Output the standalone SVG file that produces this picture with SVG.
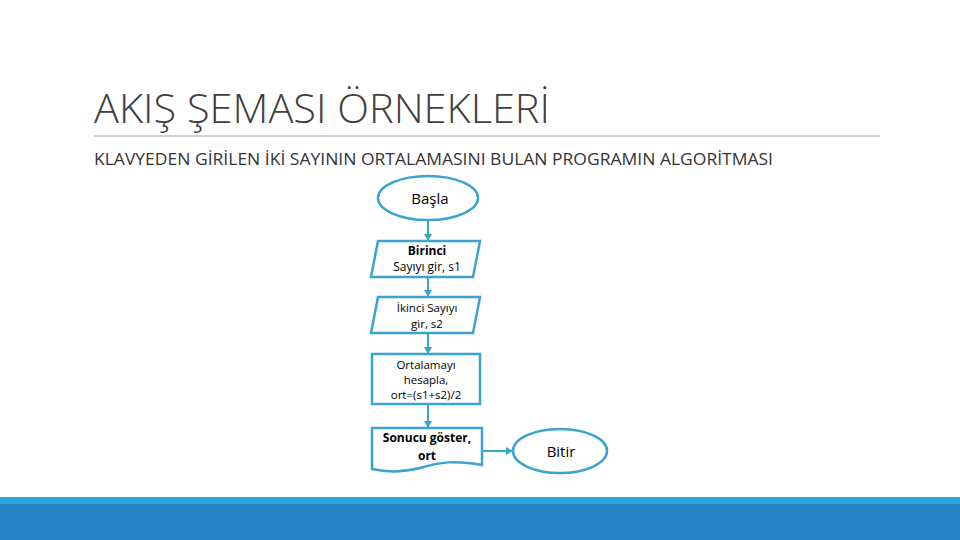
<svg xmlns="http://www.w3.org/2000/svg" width="960" height="540" viewBox="0 0 960 540">
<defs>
<marker id="ah" markerWidth="8" markerHeight="8" refX="6" refY="4" orient="auto" markerUnits="userSpaceOnUse">
<path d="M0,0 L7,4 L0,8 z" fill="#3AA3CF"/>
</marker>
<style>
.s{fill:#fff;stroke:#3AA3CF;stroke-width:2.5}
.t{font-family:"Open Sans","Liberation Sans",sans-serif;fill:#000;text-anchor:middle}
.c{stroke:#3AA3CF;stroke-width:2;fill:none;marker-end:url(#ah)}
</style>
</defs>
<rect width="960" height="540" fill="#fff"/>
<text x="94" y="123" font-family="'Open Sans','Liberation Sans',sans-serif" font-weight="300" font-size="41" fill="#404040" textLength="456" lengthAdjust="spacingAndGlyphs">AKIŞ ŞEMASI ÖRNEKLERİ</text>
<line x1="94" y1="136" x2="880" y2="136" stroke="#A6A6A6" stroke-width="1"/>
<text x="94" y="165" font-family="'Open Sans','Liberation Sans',sans-serif" font-size="15.5" fill="#333" textLength="679" lengthAdjust="spacingAndGlyphs">KLAVYEDEN GİRİLEN İKİ SAYININ ORTALAMASINI BULAN PROGRAMIN ALGORİTMASI</text>
<g id="connectors">
<line class="c" x1="428" y1="221" x2="428" y2="240"/>
<line class="c" x1="428" y1="277" x2="428" y2="296"/>
<line class="c" x1="428" y1="333" x2="428" y2="353"/>
<line class="c" x1="428" y1="404" x2="428" y2="427"/>
<line class="c" x1="482" y1="451" x2="512" y2="451"/>
</g>
<g id="basla">
<ellipse class="s" cx="428" cy="198" rx="50" ry="22"/>
<text class="t" x="430" y="204" font-size="15">Başla</text>
</g>
<g id="input1">
<polygon class="s" points="378,241 480,241 473,277 371,277"/>
<text class="t" x="427" y="255" font-size="12" font-weight="bold">Birinci</text>
<text class="t" x="427" y="271" font-size="12">Sayıyı gir, s1</text>
</g>
<g id="input2">
<polygon class="s" points="378,297 480,297 473,333 371,333"/>
<text class="t" x="427" y="312" font-size="11.5">İkinci Sayıyı</text>
<text class="t" x="427" y="328" font-size="11.5">gir, s2</text>
</g>
<g id="process">
<rect class="s" x="372" y="354" width="108" height="50"/>
<text class="t" x="426" y="369" font-size="11.5">Ortalamayı</text>
<text class="t" x="426" y="384" font-size="11.5">hesapla,</text>
<text class="t" x="426" y="399" font-size="11.5">ort=(s1+s2)/2</text>
</g>
<g id="output">
<path class="s" d="M372,428 L482,428 L482,465 C455,460 440,462 420,468 C400,473 385,472 372,469 Z"/>
<text class="t" x="427" y="442" font-size="12" font-weight="bold">Sonucu göster,</text>
<text class="t" x="427" y="460" font-size="12" font-weight="bold">ort</text>
</g>
<g id="bitir">
<ellipse class="s" cx="560" cy="451" rx="47" ry="22"/>
<text class="t" x="561" y="457" font-size="15">Bitir</text>
</g>
<rect x="0" y="497" width="960" height="7" fill="#22A8DD"/>
<rect x="0" y="504" width="960" height="36" fill="#2683C6"/>
</svg>
